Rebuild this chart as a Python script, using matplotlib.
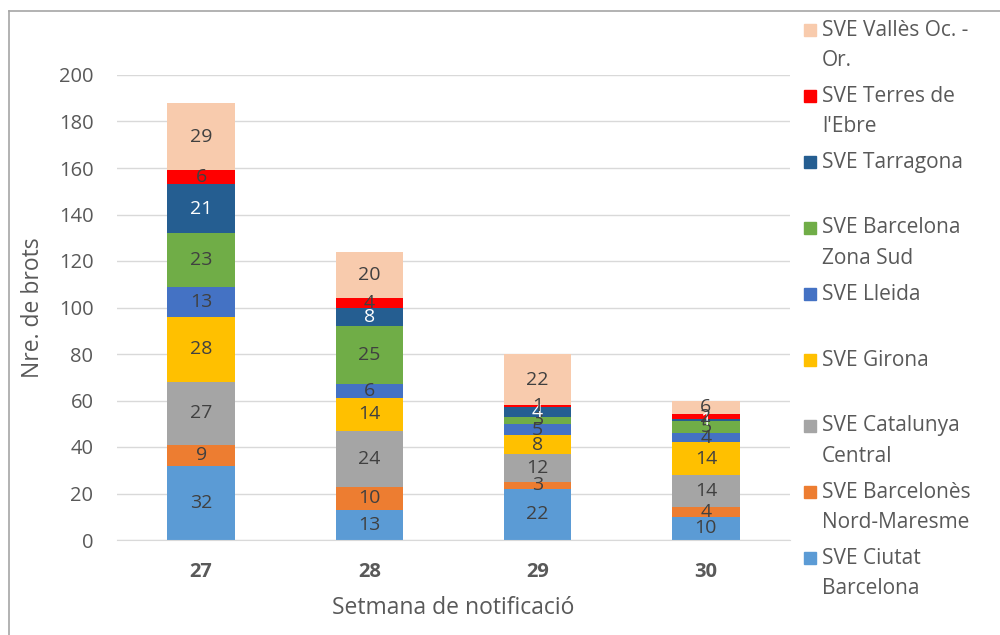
import matplotlib.pyplot as plt
from matplotlib.lines import Line2D
import numpy as np

plt.rcParams['font.family'] = ['Open Sans', 'DejaVu Sans']

weeks = ['27', '28', '29', '30']
series = ['SVE Ciutat\nBarcelona', 'SVE Barcelonès\nNord-Maresme', 'SVE Catalunya\nCentral',
          'SVE Girona', 'SVE Lleida', 'SVE Barcelona\nZona Sud', 'SVE Tarragona',
          "SVE Terres de\nl'Ebre", 'SVE Vallès Oc. -\nOr.']
ciutat_bcn = [32, 13, 22, 10]
bcn_nord = [9, 10, 3, 4]
cat_central = [27, 24, 12, 14]
girona = [28, 14, 8, 14]
lleida = [13, 6, 5, 4]
bcn_sud = [23, 25, 3, 5]
tarragona = [21, 8, 4, 1]
terres_ebre = [6, 4, 1, 2]
valles = [29, 20, 22, 6]
values = [ciutat_bcn, bcn_nord, cat_central, girona, lleida, bcn_sud, tarragona, terres_ebre, valles]

colors = ['#5B9BD5', '#ED7D31', '#A5A5A5', '#FFC000', '#4472C4', '#70AD47', '#255E91', '#FF0000', '#F8CBAD']
label_colors = ['#404040'] * 6 + ['white', '#404040', '#404040']
txt = '#595959'

W, H = 1000, 635
fig = plt.figure(figsize=(W / 100, H / 100), dpi=100)
ax = fig.add_axes([117 / W, 1 - 540 / H, 673 / W, 465 / H])

x = np.arange(len(weeks))
bottom = np.zeros(len(weeks))
for vals, c, lc in zip(values, colors, label_colors):
    rects = ax.bar(x, vals, 0.4, bottom=bottom, color=c, zorder=2)
    ax.bar_label(rects, label_type='center', color=lc, fontsize=14)
    bottom += vals

ax.set_xlim(-0.5, 3.5)
ax.set_ylim(0, 200)
ax.set_yticks(range(0, 201, 20))
ax.set_xticks(x, weeks)
ax.grid(axis='y', color='#D9D9D9', linewidth=1, zorder=0)
for s in ['top', 'right', 'left']:
    ax.spines[s].set_visible(False)
ax.spines['bottom'].set_color('#D9D9D9')
ax.tick_params(length=0, colors=txt, labelsize=14.5)
ax.tick_params(axis='y', pad=17)
ax.tick_params(axis='x', pad=16)
for t in ax.get_xticklabels():
    t.set_fontweight('bold')
ax.set_ylabel('Nre. de brots', color=txt, fontsize=16.5, labelpad=10)
ax.set_xlabel('Setmana de notificació', color=txt, fontsize=16.5, labelpad=10)

# legend, drawn top to bottom in reverse order
for i, (name, c) in enumerate(zip(series[::-1], colors[::-1])):
    yc = 1 - (30 + 66 * i) / H
    fig.add_artist(plt.Rectangle((804 / W, yc - 6 / H), 12 / W, 12 / H, color=c,
                                 transform=fig.transFigure))
    for j, line in enumerate(name.split('\n')):
        fig.text(822 / W, yc - j * 30 / H, line, color=txt, fontsize=15, va='center', ha='left')

# chart frame
fig.add_artist(Line2D([9 / W, 9 / W], [0, 1 - 11 / H], color='#A6A6A6', lw=1.2, transform=fig.transFigure))
fig.add_artist(Line2D([9 / W, 1], [1 - 11 / H, 1 - 11 / H], color='#A6A6A6', lw=1.2, transform=fig.transFigure))

fig.savefig('out.png', dpi=100)
